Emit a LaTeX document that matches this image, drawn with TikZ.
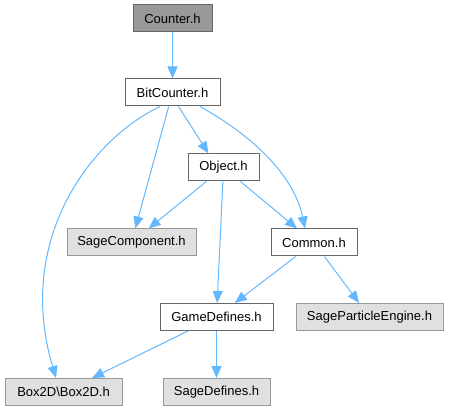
\documentclass[tikz,border=0pt]{standalone}
\usepackage{fontspec}
\setmainfont{Liberation Sans}
\usetikzlibrary{arrows.meta}
\definecolor{edgeblue}{HTML}{63B8FF}
\definecolor{darkgrey}{HTML}{666666}
\definecolor{midgrey}{HTML}{999999}
\definecolor{lightgrey}{HTML}{E0E0E0}
\tikzset{
  filebox/.style={draw=darkgrey, fill=white, rectangle, line width=1pt, minimum height=27pt, inner sep=0pt, font=\fontsize{13}{15}\selectfont},
  extbox/.style={filebox, draw=midgrey, fill=lightgrey},
  topbox/.style={filebox, fill=midgrey},
  dep/.style={draw=edgeblue, line width=1pt, -{Triangle[length=12pt,width=10pt]}}
}
\begin{document}
\begin{tikzpicture}[x=1pt,y=-1pt]
\useasboundingbox (0,0) rectangle (449,411);
\node[topbox, minimum width=79pt] (counter) at (172.5,18.5) {Counter.h};
\node[filebox, minimum width=95pt] (bitcounter) at (172.5,92.5) {BitCounter.h};
\node[filebox, minimum width=71pt] (object) at (223.5,167.5) {Object.h};
\node[extbox, minimum width=129pt] (sagecomp) at (131.5,242.5) {SageComponent.h};
\node[filebox, minimum width=86pt] (common) at (314,242.5) {Common.h};
\node[filebox, minimum width=113pt] (gamedefs) at (216.5,317) {GameDefines.h};
\node[extbox, minimum width=147pt] (particle) at (369.5,317) {SageParticleEngine.h};
\node[extbox, minimum width=117pt] (box2d) at (63.5,392) {Box2D\textbackslash Box2D.h};
\node[extbox, minimum width=107pt] (sagedefs) at (216.5,392) {SageDefines.h};

\draw[dep] (counter) -- (bitcounter);
\draw[dep] ([xshift=-12.5pt]bitcounter.south) .. controls (90,140) and (15,240) .. ([xshift=-7.5pt]box2d.north);
\draw[dep] (bitcounter) -- (sagecomp);
\draw[dep] ([xshift=6pt]bitcounter.south) -- ([xshift=-15pt]object.north);
\draw[dep] ([xshift=27.5pt]bitcounter.south) .. controls (260,140) and (295,180) .. ([xshift=-9pt]common.north);
\draw[dep] (object) -- (sagecomp);
\draw[dep] (object) -- (common);
\draw[dep] (object) -- (gamedefs);
\draw[dep] (common) -- (gamedefs);
\draw[dep] (common) -- (particle);
\draw[dep] (gamedefs) -- (box2d);
\draw[dep] (gamedefs) -- (sagedefs);
\end{tikzpicture}
\end{document}
